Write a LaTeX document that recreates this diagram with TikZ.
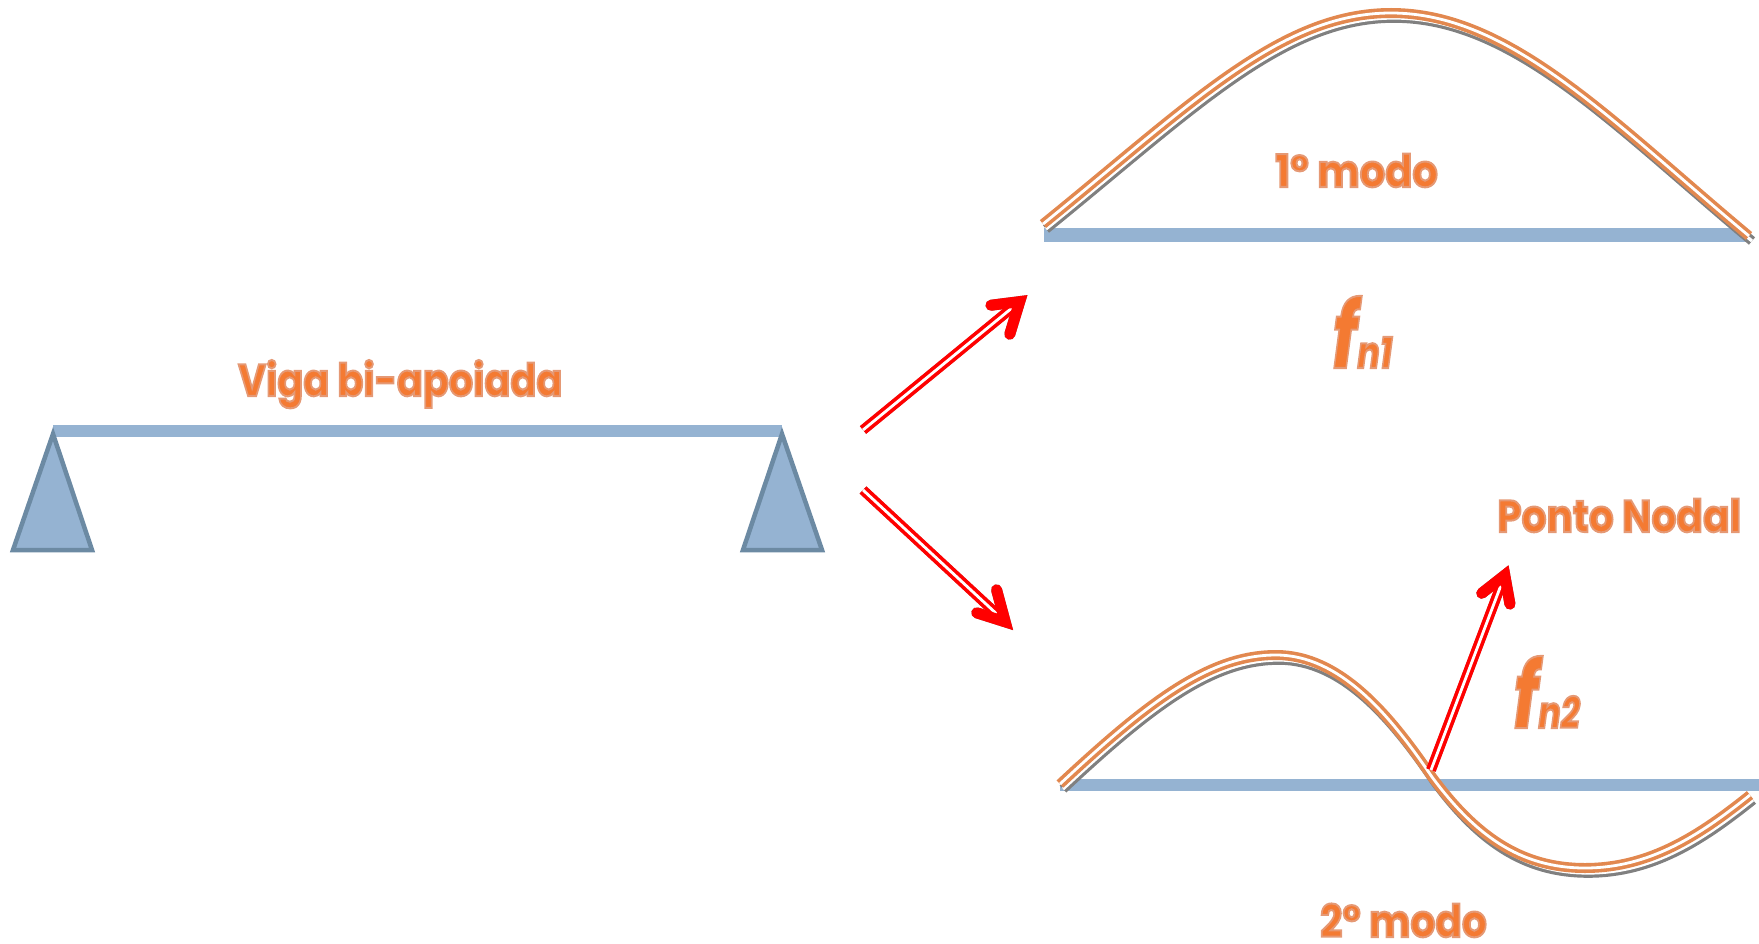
\documentclass[tikz,border=0pt]{standalone}
\usepackage{fontspec}
\usetikzlibrary{calc}
\setmainfont{Poppins}
\definecolor{beamblue}{HTML}{95B3D2}
\definecolor{edgeblue}{HTML}{6C8AA3}
\definecolor{curveor}{HTML}{E2884F}
\definecolor{textor}{HTML}{F47A32}
\definecolor{shade}{HTML}{808080}
\newcommand{\outl}[2]{\special{pdf:code q 2 Tr #1 w 0.90 0.60 0.46 RG}#2\special{pdf:code Q}}
\tikzset{
  beam/.style={fill=beamblue,draw=none},
  support/.style={fill=beamblue,draw=edgeblue,line width=4.5pt,line join=miter},
  wave/.style={draw=curveor,line width=3.6pt,double=white,double distance=2.8pt},
  waveshade/.style={draw=shade,line width=3.2pt,double=white,double distance=3.2pt,shift={(3pt,-5pt)}},
  shaft/.style={draw=red,line width=3.6pt,double=white,double distance=2.8pt},
  shaftshade/.style={draw=shade,line width=3.2pt,double=white,double distance=3.2pt,shift={(3pt,-4pt)}},
  headstroke/.style={draw=red,line width=11pt,line cap=round,line join=miter,miter limit=10},
  headshade/.style={draw=shade,line width=11pt,line cap=round,line join=miter,miter limit=10,shift={(1pt,-4pt)}},
  label/.style={inner sep=0pt,text=textor,font=\bfseries\fontsize{45}{45}\selectfont,anchor=base west,xscale=#1,transform shape},
  freq/.style={inner sep=0pt,text=textor,anchor=base west,xscale=0.76,transform shape}
}
\newcommand{\fixarrow}[4]{%
  \coordinate (hv) at ($(#2)!12pt!(#1)$);
  \coordinate (hl) at ($(#3)!6pt!(hv)$);
  \coordinate (hr) at ($(#4)!6pt!(hv)$);
  \draw[shaftshade] (#1) -- ($(#1)!0.9!(#2)$);
  \draw[headshade] (hl) -- (hv) -- (hr);
  \draw[shaft] (#1) -- ($(#1)!0.9!(#2)$);
  \draw[headstroke] (hl) -- (hv) -- (hr);
}
\begin{document}
\begin{tikzpicture}[x=1pt,y=-1pt]
\useasboundingbox (0,0) rectangle (1759,944);
% left beam and supports
\fill[beam] (53,425) rectangle (782,437);
\draw[support] (53,434) -- (92,550) -- (13,550) -- cycle;
\draw[support] (782,434) -- (822,550) -- (743,550) -- cycle;
\node[label=0.85] (viga) at (238,396) {\outl{2}{Viga bi-apoiada}};
% mode 1
\fill[beam] (1044,228) rectangle (1746,242);
\def\curveA{(1043,224) .. controls (1190,105) and (1280,13) .. (1391,13) .. controls (1510,13) and (1610,120) .. (1749,236)}
\draw[waveshade] \curveA;
\draw[wave] \curveA;
\node[label=0.89] (modoa) at (1275,187) {\outl{2}{1° modo}};
\node[freq] (fna) at (1332,368) {\bfseries\itshape\outl{2}{\fontsize{92}{92}\selectfont f\fontsize{44}{44}\selectfont n1}};
% mode 2
\fill[beam] (1060,779) rectangle (1759,791);
\def\curveB{(1060,784) .. controls (1150,700) and (1210,655) .. (1276,655) .. controls (1340,655) and (1390,715) .. (1432,777) .. controls (1475,835) and (1520,868) .. (1585,868) .. controls (1650,868) and (1700,835) .. (1750,795)}
\draw[waveshade] \curveB;
\draw[wave] \curveB;
\node[label=0.87] (modob) at (1320,937) {\outl{2}{2° modo}};
\node[label=0.87] (nodal) at (1497,532) {\outl{2}{Ponto Nodal}};
\node[freq] (fnb) at (1513,728) {\bfseries\itshape\outl{2}{\fontsize{92}{92}\selectfont f\fontsize{44}{44}\selectfont n2}};
% arrows
\coordinate (aS) at (863,430); \coordinate (aT) at (1029,294);
\coordinate (aL) at (985,306); \coordinate (aR) at (1008,340);
\coordinate (bS) at (863,490); \coordinate (bT) at (1014,630);
\coordinate (bL) at (971,611); \coordinate (bR) at (995,584);
\coordinate (cS) at (1431,770); \coordinate (cT) at (1509,564);
\coordinate (cL) at (1477,597); \coordinate (cR) at (1511,610);
\fixarrow{aS}{aT}{aL}{aR}
\fixarrow{bS}{bT}{bL}{bR}
\fixarrow{cS}{cT}{cL}{cR}
\end{tikzpicture}
\end{document}
